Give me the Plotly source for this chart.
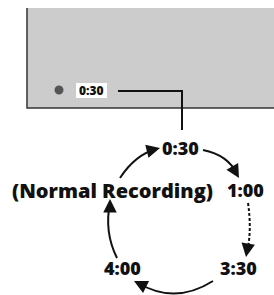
import plotly.graph_objects as go

# Text content
cycle_labels = ["0:30", "1:00", "3:30", "4:00", "(Normal Recording)"]
cycle_x = [180, 245, 238, 122, 112.5]
cycle_y = [148, 190, 268, 268, 190]
cycle_sizes = [18, 18, 18, 18, 20]
display_label = "0:30"

W, H = 274, 295
fig = go.Figure()

# gray panel as a filled polygon (extends past the right edge)
panel_x = [27, W + 40, W + 40, 27, 27]
panel_y = [8, 8, 108, 108, 8]
fig.add_trace(go.Scatter(x=panel_x, y=panel_y, mode="none", fill="toself", fillcolor="#cccccc",
                         hoverinfo="skip", showlegend=False, cliponaxis=True))
fig.add_trace(go.Scatter(x=[27, 27, W + 40], y=[8, 108, 108], mode="lines",
                         line=dict(color="#333333", width=1.5), hoverinfo="skip", showlegend=False))

shapes = []
# dot
shapes.append(dict(type="circle", x0=54.5, x1=63.5, y0=85.5, y1=94.5, fillcolor="#555555", line=dict(width=0)))
# white box
shapes.append(dict(type="rect", x0=76, x1=107, y0=83, y1=98, fillcolor="white", line=dict(width=0)))
# connector line
shapes.append(dict(type="path", path="M 118,91 L 182,91 L 182,130", line=dict(color="#111111", width=2)))

# arcs
arcs = [
    ("M 203,150 Q 228,155 237,174", "solid"),
    ("M 248,203 Q 252,230 247,253", "3px,2px"),
    ("M 213,281 Q 175,305 138,283", "solid"),
    ("M 117,258 Q 104,232 110,203", "solid"),
    ("M 120,178 Q 135,155 156,149", "solid"),
]
for p, d in arcs:
    shapes.append(dict(type="path", path=p, line=dict(color="#111111", width=2, dash=d)))

annotations = []
# arrowheads (tip, tail)
heads = [
    ((239, 178), (235, 171)),
    ((246, 257), (247, 251)),
    ((134, 281), (140, 284)),
    ((110, 199), (110, 205)),
    ((160, 148), (154, 149.5)),
]
for (tx, ty), (ax, ay) in heads:
    annotations.append(dict(x=tx, y=ty, ax=ax, ay=ay, xref="x", yref="y", axref="x", ayref="y",
                            text="", showarrow=True, arrowhead=2, arrowsize=1.35, arrowwidth=2, arrowcolor="#111111"))

for lab, x, y, s in zip(cycle_labels, cycle_x, cycle_y, cycle_sizes):
    annotations.append(dict(x=x, y=y, text=lab, showarrow=False, xref="x", yref="y",
                            font=dict(family="Open Sans", size=s, color="#111111", weight=800)))

annotations.append(dict(x=91.5, y=90.5, text=display_label, showarrow=False, xref="x", yref="y",
                        font=dict(family="Open Sans", size=12, color="#111111", weight=800)))

fig.update_layout(
    width=W, height=H, margin=dict(l=0, r=0, t=0, b=0, pad=0), autosize=False,
    paper_bgcolor="white", plot_bgcolor="white",
    xaxis=dict(range=[0, W], visible=False, fixedrange=True, domain=[0, 1]),
    yaxis=dict(range=[H, 0], visible=False, fixedrange=True, domain=[0, 1]),
    shapes=shapes, annotations=annotations, showlegend=False,
)
fig.write_html("out.html", config={"displayModeBar": False, "responsive": False},
               post_script=("document.documentElement.style.overflow='hidden';"
                            "document.body.style.margin='0';document.body.style.padding='0';"
                            "document.body.style.overflow='hidden';window.scrollTo(0,0);"))
